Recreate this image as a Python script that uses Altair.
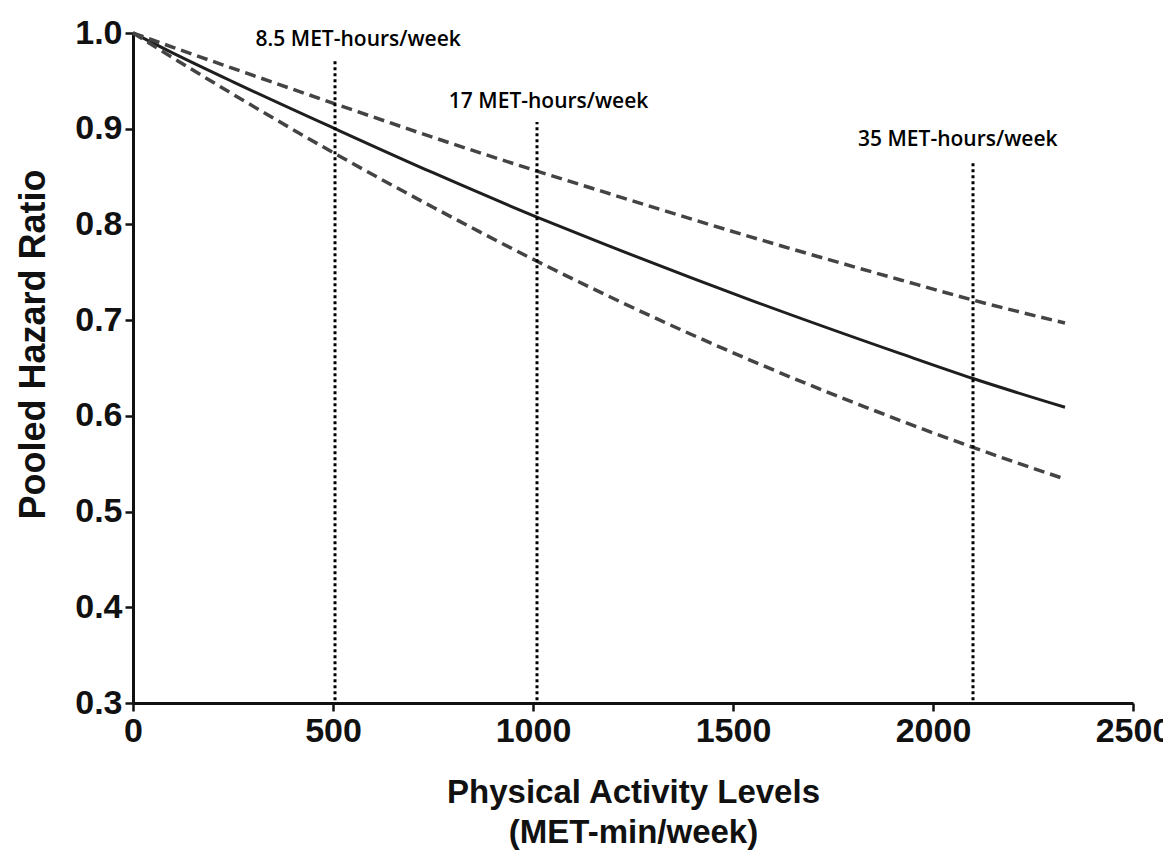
import altair as alt
import pandas as pd

# Curve sample points (MET-min/week)
x_vals = [0, 100, 250, 505, 750, 1008, 1169, 1544, 1919, 2100, 2330]
hr_mid = [1.0, 0.979, 0.949, 0.900, 0.854, 0.808, 0.781, 0.721, 0.665, 0.639, 0.609]
hr_upper = [1.0, 0.985, 0.963, 0.926, 0.891, 0.856, 0.835, 0.787, 0.742, 0.721, 0.697]
hr_lower = [1.0, 0.974, 0.936, 0.874, 0.818, 0.762, 0.729, 0.658, 0.595, 0.567, 0.534]

# Reference lines
ref_x = [505, 1010, 2100]
ref_top = [0.973, 0.907, 0.867]
ref_bottom = [0.303, 0.303, 0.303]
ref_labels = ["8.5 MET-hours/week", "17 MET-hours/week", "35 MET-hours/week"]
label_x = [563, 1039, 2062]
label_y = [0.9927, 0.928, 0.888]

x_ticks = [0, 500, 1000, 1500, 2000, 2500]
y_ticks = [0.3, 0.4, 0.5, 0.6, 0.7, 0.8, 0.9, 1.0]

mid_df = pd.DataFrame({"x": x_vals, "y": hr_mid})
up_df = pd.DataFrame({"x": x_vals, "y": hr_upper})
lo_df = pd.DataFrame({"x": x_vals, "y": hr_lower})
ref_df = pd.DataFrame({"x": ref_x, "y": ref_bottom, "y2": ref_top})
lab_df = pd.DataFrame({"x": label_x, "y": label_y, "t": ref_labels})

xs = alt.Scale(domain=[0, 2500], nice=False, zero=False)
ys = alt.Scale(domain=[0.3, 1.0], nice=False, zero=False)

font = "Liberation Sans"

x_axis = alt.Axis(
    values=x_ticks, format="d", title=["Physical Activity Levels", "(MET-min/week)"],
    grid=False, domainColor="#111", domainWidth=3, tickColor="#111", tickWidth=2.5,
    tickSize=8, labelFont=font, labelFontSize=34, labelFontWeight="bold", labelColor="#111",
    labelPadding=3, titleFont=font, titleFontSize=33, titleFontWeight="bold", titleColor="#111",
    titlePadding=28, titleLineHeight=40, labelFlush=False,
)
y_axis = alt.Axis(
    values=y_ticks, format=".1f", title="Pooled Hazard Ratio",
    grid=False, domainColor="#111", domainWidth=3, tickColor="#111", tickWidth=2.5,
    tickSize=8, labelFont=font, labelFontSize=34, labelFontWeight="bold", labelColor="#111",
    labelPadding=3, titleFont=font, titleFontSize=36, titleFontWeight="bold", titleColor="#111",
    titlePadding=22, titleY=311, labelFlush=False,
)

base_x = alt.X("x:Q", scale=xs, axis=x_axis)
base_y = alt.Y("y:Q", scale=ys, axis=y_axis)

mid = alt.Chart(mid_df).mark_line(color="#1e1e1e", strokeWidth=3, interpolate="monotone").encode(
    x=base_x, y=base_y)
up = alt.Chart(up_df).mark_line(color="#444", strokeWidth=3.5, strokeDash=[11, 6],
                                interpolate="monotone").encode(x="x:Q", y="y:Q")
lo = alt.Chart(lo_df).mark_line(color="#444", strokeWidth=3.5, strokeDash=[11, 6],
                                interpolate="monotone").encode(x="x:Q", y="y:Q")
refs = alt.Chart(ref_df).mark_rule(color="black", strokeWidth=3, strokeDash=[3, 3]).encode(
    x="x:Q", y="y:Q", y2="y2:Q")
labs = alt.Chart(lab_df).mark_text(font="Open Sans", fontSize=21, fontWeight=600, color="black",
                                   baseline="middle", align="center").encode(
    x="x:Q", y="y:Q", text="t:N")

chart = alt.layer(mid, up, lo, refs, labs).properties(
    width=1000, height=670,
    background="white",
    autosize=alt.AutoSizeParams(type="none"),
    padding={"left": 125, "top": 25, "right": 30, "bottom": 152},
).configure_view(strokeWidth=0, stroke="transparent")

chart.save("out.html", embed_options={"renderer": "svg", "actions": False})
